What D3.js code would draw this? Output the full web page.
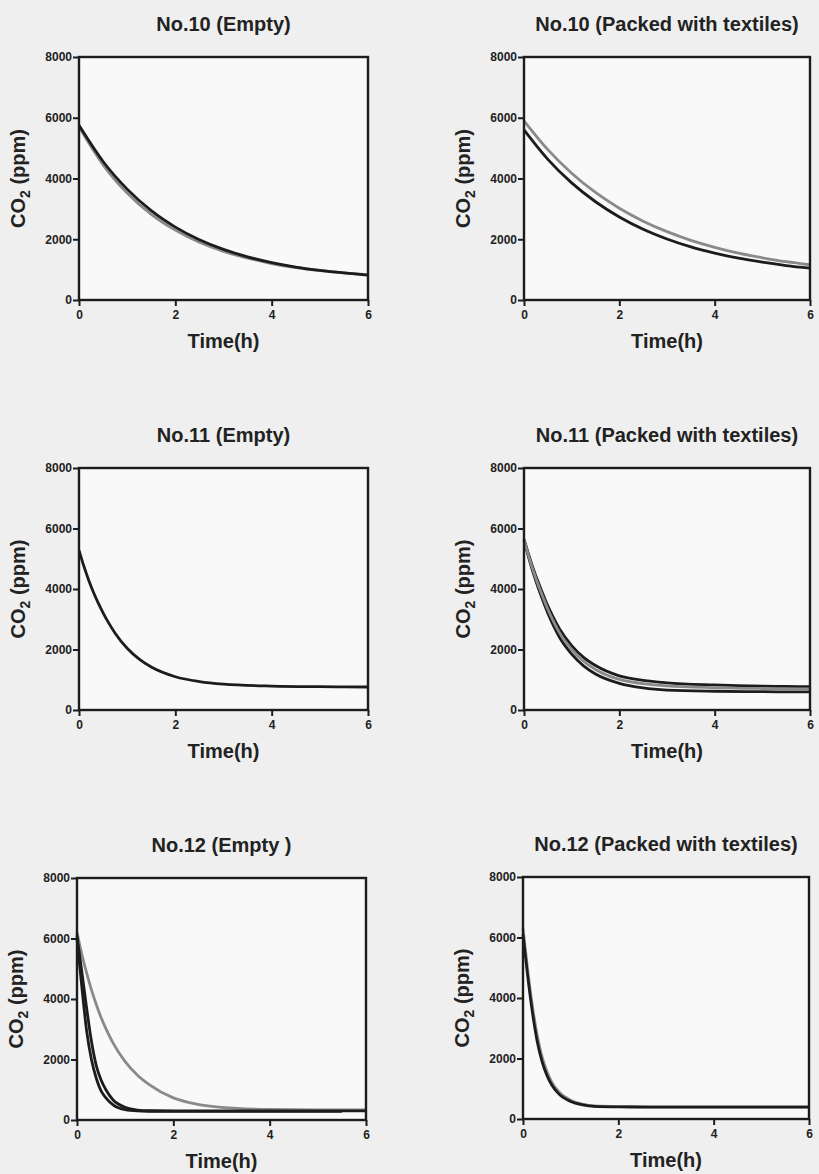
<!DOCTYPE html>
<html>
<head>
<meta charset="utf-8">
<script src="https://cdn.jsdelivr.net/npm/d3@7"></script>
<style>
body { margin: 0; background: #efefef; }
svg { display: block; font-family: "Liberation Sans", Arial, sans-serif; }
</style>
</head>
<body>
<svg id="chart" width="819" height="1174"></svg>
<script>
// time grids (hours)
var slowTimes = [0, 0.5, 1, 1.5, 2, 2.5, 3, 3.5, 4, 4.5, 5, 5.5, 6];
var fastTimes = [0, 0.1, 0.2, 0.3, 0.4, 0.5, 0.6, 0.75, 1, 1.25, 1.5, 2, 2.5, 3, 4, 5, 5.5, 6];

var titles = ["No.10 (Empty)", "No.10 (Packed with textiles)",
              "No.11 (Empty)", "No.11 (Packed with textiles)",
              "No.12 (Empty )", "No.12 (Packed with textiles)"];
var xTicks = [0, 2, 4, 6];
var yTicks = [0, 2000, 4000, 6000, 8000];

// CO2 (ppm)
var no10EmptyGray  = [5700, 4450, 3520, 2820, 2300, 1900, 1600, 1380, 1200, 1070, 970, 890, 830];
var no10EmptyBlack = [5750, 4560, 3650, 2940, 2400, 1985, 1665, 1420, 1230, 1085, 975, 890, 820];

var no10PackedGray  = [5900, 4950, 4175, 3540, 3020, 2595, 2250, 1965, 1735, 1540, 1390, 1260, 1160];
var no10PackedBlack = [5600, 4630, 3855, 3235, 2735, 2330, 2010, 1750, 1545, 1375, 1245, 1135, 1050];

var no11EmptyBlack = [5280, 4760, 4300, 3890, 3530, 3210, 2920, 2540, 2040, 1680, 1420, 1100, 940, 855, 790, 770, 765, 760];

var no11PackedBlackHi = [5650, 5130, 4650, 4220, 3820, 3440, 3110, 2670, 2130, 1740, 1470, 1130, 980, 900, 830, 790, 780, 770];
var no11PackedGray    = [5620, 5080, 4580, 4130, 3720, 3330, 2990, 2540, 2000, 1610, 1340, 1010, 870, 800, 740, 710, 700, 700];
var no11PackedBlackLo = [5600, 5030, 4500, 4030, 3600, 3200, 2850, 2390, 1850, 1460, 1190, 880, 730, 660, 620, 605, 600, 600];

var no12EmptyGray   = [6200, 5480, 4860, 4300, 3820, 3390, 3020, 2540, 1930, 1490, 1170, 730, 520, 420, 350, 338, 334, 332];
var no12EmptyBlackA = [6000, 4400, 2950, 2000, 1380, 960, 730, 500, 340, 300, 290, 285, 285, 285, 285, 285, 285, null];
var no12EmptyBlackB = [6100, 4900, 3700, 2600, 1800, 1320, 1000, 660, 420, 330, 305, 300, 300, 300, 300, 300, 300, 300];

var no12PackedGray  = [6300, 4900, 3700, 2750, 2050, 1580, 1230, 900, 620, 490, 430, 410, 405, 400, 400, 400, 400, 400];
var no12PackedBlack = [6100, 4700, 3500, 2550, 1900, 1450, 1130, 830, 580, 470, 420, 400, 395, 390, 390, 390, 390, 390];

var GRAY = "#8a8a8a", BLACK = "#1c1c1c";

var panels = [
    {times: slowTimes, series: [[no10EmptyGray, GRAY], [no10EmptyBlack, BLACK]]},
    {times: slowTimes, series: [[no10PackedGray, GRAY], [no10PackedBlack, BLACK]]},
    {times: fastTimes, series: [[no11EmptyBlack, BLACK]]},
    {times: fastTimes, series: [[no11PackedBlackHi, BLACK], [no11PackedBlackLo, BLACK], [no11PackedGray, GRAY]]},
    {times: fastTimes, series: [[no12EmptyGray, GRAY], [no12EmptyBlackB, BLACK], [no12EmptyBlackA, BLACK]]},
    {times: fastTimes, series: [[no12PackedGray, GRAY], [no12PackedBlack, BLACK]]}
];

// plot-area boxes: left, top, width, height
var boxes = [
    [79, 57, 289, 243], [524, 57, 286, 243],
    [79, 468, 289, 242], [524, 468, 286, 242],
    [77, 878, 289, 242], [523, 877, 286, 242]
];

var svg = d3.select("#chart");

panels.forEach(function(p, i) {
    var b = boxes[i],
        w = b[2], h = b[3];

    var x = d3.scaleLinear().domain([0, 6]).range([0, w]);
    var y = d3.scaleLinear().domain([0, 8000]).range([h, 0]);

    var g = svg.append("g")
        .attr("transform", "translate(" + b[0] + "," + b[1] + ")");

    g.append("rect")
        .attr("width", w).attr("height", h)
        .attr("fill", "#f9f9f9");

    var line = d3.line()
        .defined(function(d) { return d[1] != null; })
        .x(function(d) { return x(d[0]); })
        .y(function(d) { return y(d[1]); })
        .curve(d3.curveMonotoneX);

    p.series.forEach(function(s) {
        var pts = p.times.map(function(t, j) { return [t, s[0][j]]; });
        g.append("path")
            .datum(pts)
            .attr("d", line)
            .attr("fill", "none")
            .attr("stroke", s[1])
            .attr("stroke-width", 2.8);
    });

    var yAxis = g.append("g")
        .call(d3.axisLeft(y).tickValues(yTicks).tickFormat(d3.format("d"))
            .tickSize(6).tickPadding(1).tickSizeOuter(0));
    var xAxis = g.append("g")
        .attr("transform", "translate(0," + h + ")")
        .call(d3.axisBottom(x).tickValues(xTicks).tickFormat(d3.format("d"))
            .tickSize(6).tickPadding(4).tickSizeOuter(0));

    [xAxis, yAxis].forEach(function(a) {
        a.select(".domain").remove();
        a.selectAll(".tick line").attr("stroke", BLACK).attr("stroke-width", 2);
        a.selectAll(".tick text")
            .attr("fill", "#222")
            .style("font-size", "12px")
            .style("font-weight", "bold")
            .style("font-family", "'Liberation Sans', Arial, sans-serif");
    });

    g.append("rect")
        .attr("width", w).attr("height", h)
        .attr("fill", "none")
        .attr("stroke", BLACK)
        .attr("stroke-width", 2.4);

    g.append("text")
        .attr("x", w / 2).attr("y", -26)
        .attr("text-anchor", "middle")
        .attr("fill", "#222")
        .style("font-size", "20px").style("font-weight", "bold")
        .text(titles[i]);

    g.append("text")
        .attr("x", w / 2).attr("y", h + 48)
        .attr("text-anchor", "middle")
        .attr("fill", "#222")
        .style("font-size", "20px").style("font-weight", "bold")
        .text("Time(h)");

    var yl = g.append("text")
        .attr("transform", "translate(-54," + (h / 2) + ") rotate(-90)")
        .attr("text-anchor", "middle")
        .attr("fill", "#222")
        .style("font-size", "20px").style("font-weight", "bold");
    yl.append("tspan").text("CO");
    yl.append("tspan").attr("dy", 5).style("font-size", "14px").text("2");
    yl.append("tspan").attr("dy", -5).text(" (ppm)");
});
</script>
</body>
</html>
